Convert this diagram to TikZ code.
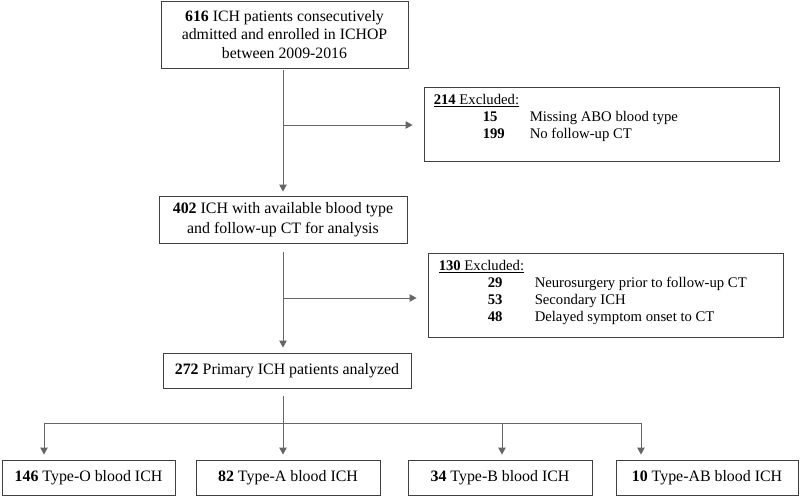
\documentclass[tikz,border=0pt]{standalone}
\usepackage{fontspec}
\setmainfont{Liberation Serif}
\usetikzlibrary{arrows.meta}
\tikzset{%
  stagebox/.style  = {shape=rectangle, draw=black!75, line width=0.9pt,%
                      align=center, inner sep=0pt},%
  exclbox/.style   = {stagebox},%
  exclnote/.style  = {anchor=north west, align=left, inner sep=0pt,%
                      font=\fontsize{14.7}{17}\selectfont},%
  typebox/.style   = {stagebox, minimum height=35pt},%
  link/.style      = {draw=black!60, line width=0.9pt},%
  arrowlink/.style = {link, -{Triangle[length=7pt,width=7.5pt]}}%
}
\newcommand{\exclrow}[2]{\hspace*{49pt}\makebox[47pt][l]{\textbf{#1}}#2}

\begin{document}
\begin{tikzpicture}
  [x=1pt,y=-1pt,every node/.style={font=\fontsize{15.9}{20}\selectfont}]
  \useasboundingbox (0,0) rectangle (800,496);
  % main stages
  \node[stagebox, minimum width=247pt, minimum height=67pt, font=\fontsize{15.8}{18.3}\selectfont]
    (enrolled) at (284.5,34.5)
    {\textbf{616} ICH patients consecutively\\admitted and enrolled in ICHOP\\between 2009-2016};
  \node[stagebox, minimum width=248pt, minimum height=47pt] (available) at (283,219.5)
    {\textbf{402} ICH with available blood type\\and follow-up CT for analysis};
  \node[stagebox, minimum width=248pt, minimum height=35pt] (analyzed) at (287,370.5)
    {\textbf{272} Primary ICH patients analyzed};
  % exclusions
  \node[exclbox, minimum width=355pt, minimum height=74pt] (excl1) at (601.5,124) {};
  \node[exclnote] (excl1txt) at ([xshift=10pt,yshift=-8pt]excl1.north west)
    {\underline{\textbf{214} Excluded:}\\
     \exclrow{15}{Missing ABO blood type}\\
     \exclrow{199}{No follow-up CT}};
  \node[exclbox, minimum width=355pt, minimum height=84pt] (excl2) at (605.5,295) {};
  \node[exclnote] (excl2txt) at ([xshift=11pt,yshift=-8pt]excl2.north west)
    {\underline{\textbf{130} Excluded:}\\
     \exclrow{29}{Neurosurgery prior to follow-up CT}\\
     \exclrow{53}{Secondary ICH}\\
     \exclrow{48}{Delayed symptom onset to CT}};
  % blood types
  \node[typebox, minimum width=173pt] (typeO) at (88.5,477.5) {\textbf{146} Type-O blood ICH};
  \node[typebox, minimum width=184pt] (typeA) at (288,477.5) {\textbf{82} Type-A blood ICH};
  \node[typebox, minimum width=184pt] (typeB) at (500,477.5) {\textbf{34} Type-B blood ICH};
  \node[typebox, minimum width=182pt] (typeAB) at (707,477.5) {\textbf{10} Type-AB blood ICH};
  % junctions
  \coordinate (j1) at (283,125);
  \coordinate (j2) at (283,298);
  \coordinate (j3) at (283,423);
  \coordinate (dO) at (44,423);
  \coordinate (dB) at (502,423);
  \coordinate (dAB) at (641,423);
  % connectors
  \draw[arrowlink, shorten <=2pt, shorten >=4pt] (enrolled.south -| j1) -- (available.north -| j1);
  \draw[arrowlink, shorten >=11pt] (j1) -- (excl1.west |- j1);
  \draw[arrowlink, shorten <=9pt, shorten >=5pt] (available.south -| j2) -- (analyzed.north -| j2);
  \draw[arrowlink, shorten >=11pt] (j2) -- (excl2.west |- j2);
  \draw[link, shorten <=8pt] (analyzed.south -| j3) -- (j3);
  \draw[link] (dO) -- (dAB);
  \foreach \d/\b in {dO/typeO, j3/typeA, dB/typeB, dAB/typeAB}
    \draw[arrowlink, shorten >=5pt] (\d) -- (\b.north -| \d);
\end{tikzpicture}
\end{document}
